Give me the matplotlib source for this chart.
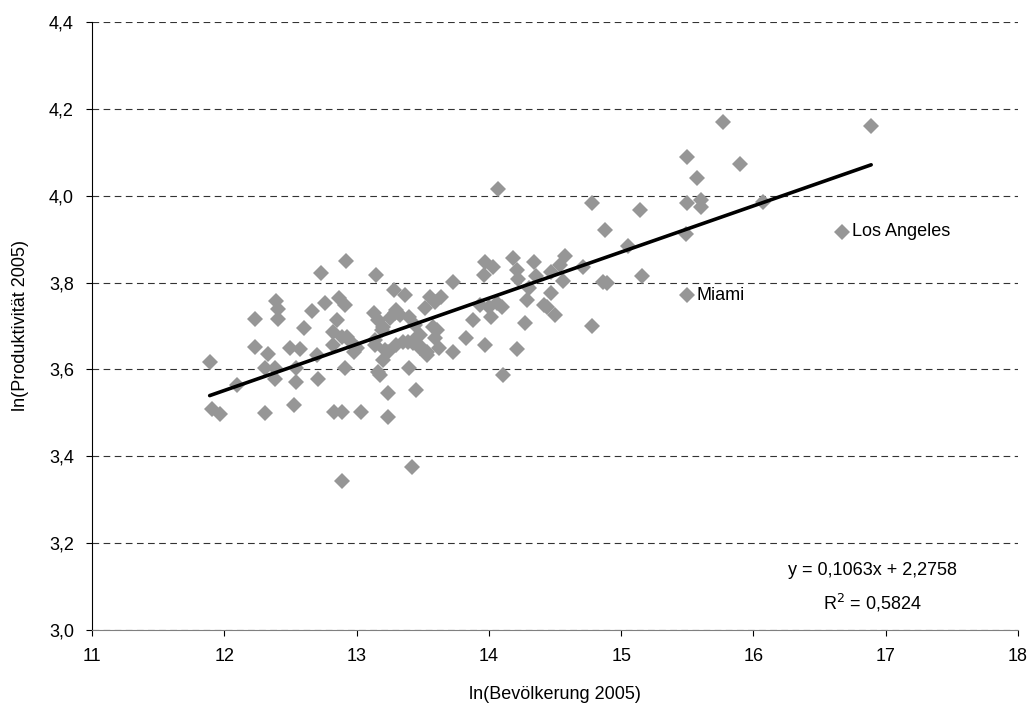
import matplotlib.pyplot as plt
from matplotlib.ticker import FuncFormatter

plt.rcParams['font.family'] = ['Liberation Sans', 'DejaVu Sans']

# ln(Bevölkerung 2005) je Stadt
bevoelkerung = [
    11.89, 11.91, 11.97, 12.10, 12.23, 12.23, 12.31, 12.33, 12.31, 12.38,
    12.38, 12.39, 12.41, 12.41, 12.50, 12.57, 12.54, 12.54, 12.53, 12.60,
    12.66, 12.70, 12.71, 12.73, 12.76, 12.83, 12.89, 13.03, 12.89, 12.92,
    12.87, 12.91, 12.85, 12.82, 12.82, 12.89, 12.93, 12.96, 13.00, 12.98,
    12.91, 13.15, 13.13, 13.16, 13.20, 13.14, 13.14, 13.19, 13.215, 13.20,
    13.16, 13.18, 13.24, 13.24, 13.24, 13.42, 13.45, 13.40, 13.28, 13.29,
    13.30, 13.33, 13.25, 13.37, 13.40, 13.44, 13.30, 13.35, 13.39, 13.43,
    13.45, 13.48, 13.48, 13.49, 13.53, 13.53, 13.52, 13.555, 13.59, 13.58,
    13.64, 13.59, 13.605, 13.62, 13.73, 13.73, 13.83, 13.88, 13.97, 14.03,
    13.96, 13.93, 14.00, 14.02, 14.06, 14.10, 13.97, 14.11, 14.18, 14.21,
    14.22, 14.34, 14.36, 14.30, 14.29, 14.27, 14.21, 14.42, 14.47, 14.54,
    14.575, 14.56, 14.47, 14.44, 14.50, 14.71, 14.78, 14.86, 14.89, 14.88,
    14.78, 15.14, 15.05, 15.155, 15.49, 15.50, 15.50, 15.57, 15.77, 15.90,
    15.50, 15.60, 15.60, 16.07, 16.67, 16.89, 14.07,
]

# ln(Produktivität 2005) je Stadt
produktivitaet = [
    3.618, 3.508, 3.497, 3.564, 3.717, 3.652, 3.500, 3.635, 3.603, 3.603,
    3.577, 3.758, 3.738, 3.715, 3.649, 3.646, 3.603, 3.572, 3.517, 3.695,
    3.735, 3.633, 3.577, 3.823, 3.754, 3.503, 3.503, 3.501, 3.343, 3.850,
    3.764, 3.748, 3.714, 3.687, 3.656, 3.675, 3.675, 3.664, 3.649, 3.640,
    3.603, 3.817, 3.729, 3.714, 3.698, 3.668, 3.656, 3.691, 3.645, 3.622,
    3.595, 3.587, 3.641, 3.545, 3.491, 3.376, 3.553, 3.603, 3.783, 3.729,
    3.737, 3.725, 3.718, 3.771, 3.721, 3.702, 3.656, 3.664, 3.664, 3.660,
    3.672, 3.679, 3.649, 3.652, 3.641, 3.633, 3.741, 3.767, 3.756, 3.698,
    3.767, 3.672, 3.691, 3.649, 3.802, 3.641, 3.672, 3.714, 3.848, 3.837,
    3.817, 3.748, 3.744, 3.721, 3.752, 3.744, 3.656, 3.587, 3.856, 3.829,
    3.808, 3.848, 3.814, 3.787, 3.761, 3.708, 3.647, 3.748, 3.825, 3.840,
    3.862, 3.804, 3.775, 3.744, 3.725, 3.836, 3.699, 3.802, 3.800, 3.920,
    3.984, 3.967, 3.884, 3.815, 3.913, 3.771, 4.090, 4.040, 4.170, 4.073,
    3.983, 3.991, 3.975, 3.985, 3.917, 4.161, 4.015,
]

# Regressionsgerade laut Trendlinie
steigung = 0.1063
achsenabschnitt = 2.2758
r_quadrat = 0.5824

# beschriftete Städte: (Name, x, y)
staedte = [('Miami', 15.50, 3.771), ('Los Angeles', 16.67, 3.917)]

fig = plt.figure(figsize=(10.33, 7.11), dpi=100)
ax = fig.add_axes([0.089, 0.114, 0.8965, 0.855])

ax.plot(bevoelkerung, produktivitaet, linestyle='none', marker='D',
        markersize=8, color='#969696', markeredgewidth=0, zorder=3)

x0, x1 = min(bevoelkerung), max(bevoelkerung)
ax.plot([x0, x1], [steigung * x0 + achsenabschnitt, steigung * x1 + achsenabschnitt],
        color='black', linewidth=2.6, solid_capstyle='round', zorder=4)

for name, sx, sy in staedte:
    ax.annotate(name, (sx, sy), xytext=(7, 0), textcoords='offset points',
                va='center', ha='left', fontsize=13)

ax.text(16.9, 3.136, 'y = 0,1063x + 2,2758', ha='center', va='center', fontsize=13)
ax.text(16.9, 3.062, 'R$^2$ = 0,5824', ha='center', va='center', fontsize=13)

ax.set_xlim(11, 18)
ax.set_ylim(3.0, 4.4)
ax.set_xticks(range(11, 19))
ax.set_yticks([3.0, 3.2, 3.4, 3.6, 3.8, 4.0, 4.2, 4.4])
ax.yaxis.set_major_formatter(FuncFormatter(lambda v, p: f'{v:.1f}'.replace('.', ',')))

ax.grid(axis='y', linestyle=(0, (6, 4)), color='#333333', linewidth=0.8)
ax.set_axisbelow(True)
for s in ['top', 'right']:
    ax.spines[s].set_visible(False)
ax.spines['left'].set_color('black')
ax.spines['bottom'].set_color('#808080')
ax.tick_params(axis='both', labelsize=13, length=4, width=0.8, direction='out', pad=9)

ax.set_xlabel('ln(Bevölkerung 2005)', fontsize=13, labelpad=15)
ax.set_ylabel('ln(Produktivität 2005)', fontsize=13, labelpad=14)

fig.savefig('out.png', dpi=100)
